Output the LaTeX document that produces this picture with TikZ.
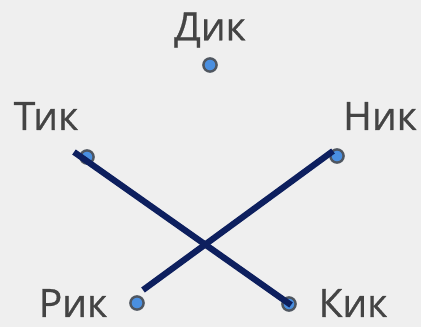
\documentclass[tikz,border=0pt]{standalone}
\usepackage{fontspec}
\setmainfont{Open Sans}
\newfontfamily\namefont{Open Sans}[FakeBold=0.7]
\usetikzlibrary{positioning}
\definecolor{bgpaper}{HTML}{EFEFEF}
\definecolor{lbltext}{HTML}{444444}
\definecolor{dotblue}{HTML}{4A8FE0}
\definecolor{dotring}{HTML}{4F5660}
\definecolor{strokenavy}{HTML}{0D1F5E}

\begin{document}
\begin{tikzpicture}[x=0.5pt, y=-0.5pt,
     lbl/.style={text=lbltext, font=\namefont\fontsize{19.5}{24}\selectfont, inner sep=0pt},
     pin/.style={circle, draw=dotring, fill=dotblue, line width=1.2pt, minimum size=6.6pt, inner sep=0pt},
     cross/.style={strokenavy, line width=3.1pt}]
    \fill[bgpaper] (0,0) rectangle (421,327);
    \useasboundingbox (0,0) rectangle (421,327);
    % dots
    \node[pin] (dik) at (210,65) {};
    \node[pin] (tik) at (87,157) {};
    \node[pin] (nik) at (337,156) {};
    \node[pin] (rik) at (137,303) {};
    \node[pin] (kik) at (289,304) {};
    % names
    \node[lbl] (dikl) at (210,30) {Дик};
    \node[lbl] (tikl) at (46,116) {Тик};
    \node[lbl] (nikl) at (380,116) {Ник};
    \node[lbl] (rikl) at (73,303) {Рик};
    \node[lbl] (kikl) at (353,303) {Кик};
    % line ends
    \coordinate (ta) at (74,152);
    \coordinate (ka) at (291,305);
    \coordinate (na) at (333,151);
    \coordinate (ra) at (143,290);
    \draw[cross] (ta) -- (ka);
    \draw[cross] (na) -- (ra);
  \end{tikzpicture}
\end{document}
